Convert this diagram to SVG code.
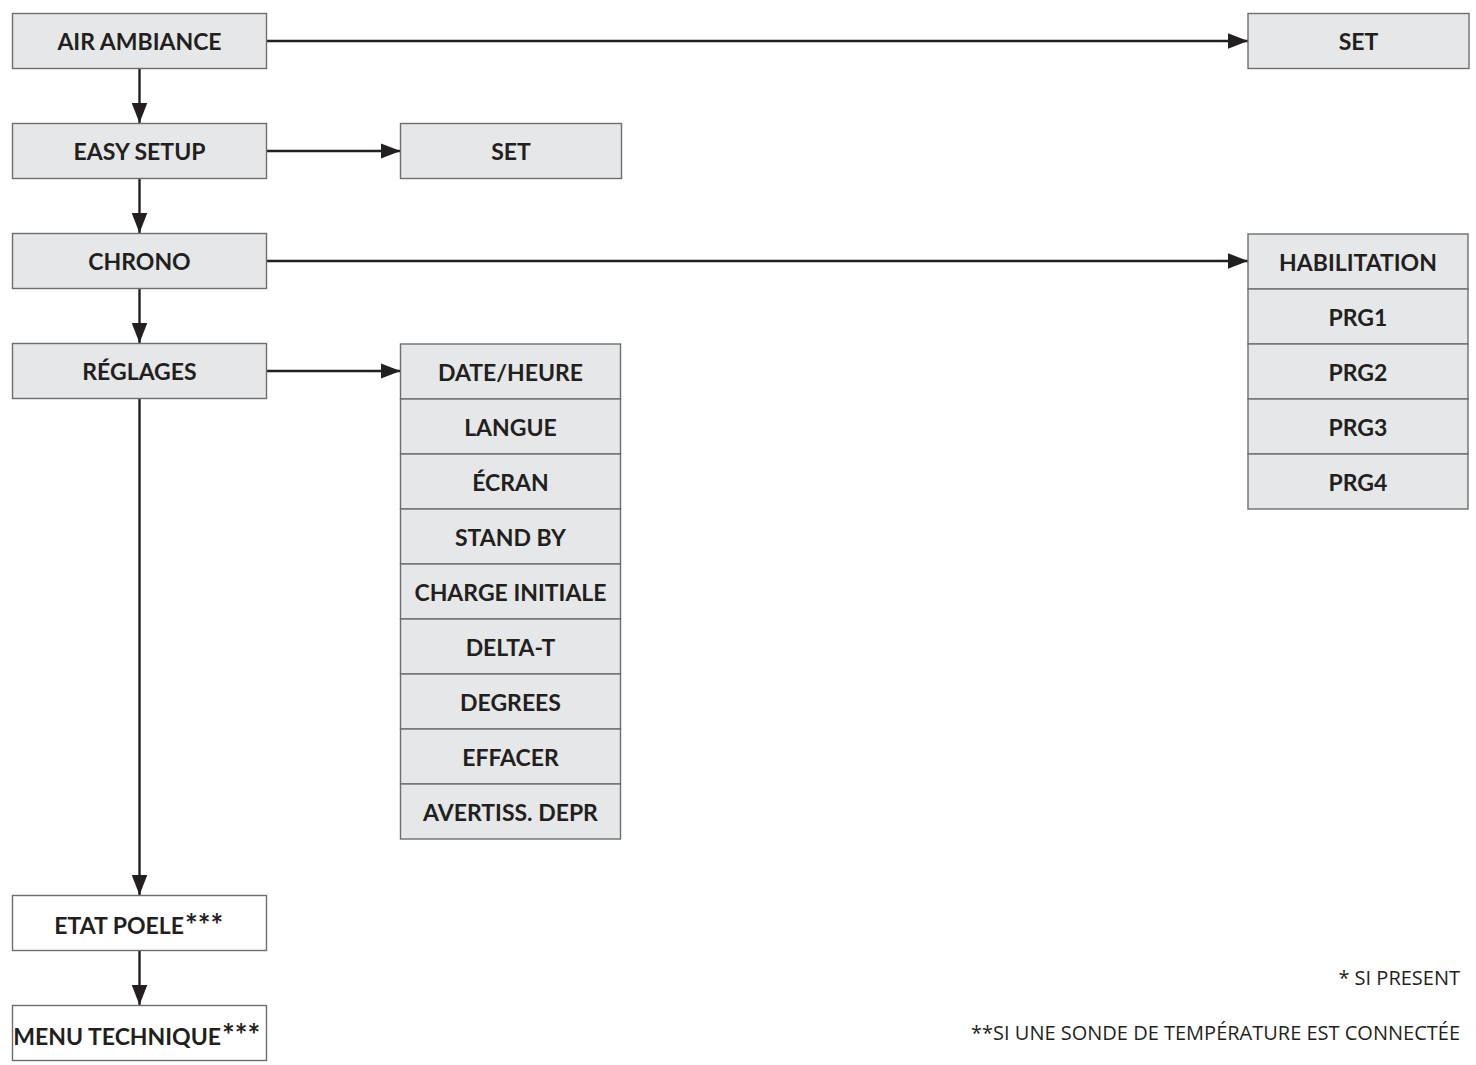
<svg xmlns="http://www.w3.org/2000/svg" width="1476" height="1065" viewBox="0 0 1476 1065">
<style>
.box{fill:#e6e7e8;stroke:#6d6e71;stroke-width:1.4}
.wbox{fill:#ffffff;stroke:#6d6e71;stroke-width:1.4}
.lbl{font-family:Lato,"Open Sans",sans-serif;font-weight:700;font-size:23px;fill:#231f20;text-anchor:middle}
.sup{font-family:Lato,"Open Sans",sans-serif;font-weight:700;font-size:30px;fill:#231f20}
.note{font-family:"Open Sans","Noto Sans",sans-serif;font-size:20px;fill:#231f20;text-anchor:end}
.con{stroke:#231f20;stroke-width:2.4;fill:none}
</style>
<defs>
<marker id="ah" markerUnits="userSpaceOnUse" markerWidth="20" markerHeight="16" refX="18" refY="7" orient="auto" viewBox="0 0 18 14">
<path d="M0,0 L18,7 L0,14 Z" fill="#231f20"/>
</marker>
</defs>
<rect width="1476" height="1065" fill="#ffffff"/>
<g id="connectors">
<line class="con" x1="267" y1="41" x2="1248" y2="41" marker-end="url(#ah)"/>
<line class="con" x1="267" y1="151" x2="400.5" y2="151" marker-end="url(#ah)"/>
<line class="con" x1="267" y1="261" x2="1248" y2="261" marker-end="url(#ah)"/>
<line class="con" x1="267" y1="371" x2="400.5" y2="371" marker-end="url(#ah)"/>
<line class="con" x1="139.5" y1="68" x2="139.5" y2="123" marker-end="url(#ah)"/>
<line class="con" x1="139.5" y1="178" x2="139.5" y2="233" marker-end="url(#ah)"/>
<line class="con" x1="139.5" y1="288" x2="139.5" y2="343" marker-end="url(#ah)"/>
<line class="con" x1="139.5" y1="398" x2="139.5" y2="895" marker-end="url(#ah)"/>
<line class="con" x1="139.5" y1="950" x2="139.5" y2="1005" marker-end="url(#ah)"/>
</g>
<g id="air-ambiance"><rect class="box" x="12.5" y="13.5" width="254" height="55"/><text class="lbl" x="139.5" y="50">AIR AMBIANCE</text></g>
<g id="set-1"><rect class="box" x="1248" y="13.5" width="221" height="55"/><text class="lbl" x="1358.5" y="50">SET</text></g>
<g id="easy-setup"><rect class="box" x="12.5" y="123.5" width="254" height="55"/><text class="lbl" x="139.5" y="160">EASY SETUP</text></g>
<g id="set-2"><rect class="box" x="400.5" y="123.5" width="221" height="55"/><text class="lbl" x="511" y="160">SET</text></g>
<g id="chrono"><rect class="box" x="12.5" y="233.5" width="254" height="55"/><text class="lbl" x="139.5" y="270">CHRONO</text></g>
<g id="reglages"><rect class="box" x="12.5" y="343.5" width="254" height="55"/><text class="lbl" x="139.5" y="380">RÉGLAGES</text></g>
<g id="etat-poele"><rect class="wbox" x="12.5" y="895.5" width="254" height="55"/><text class="lbl" style="text-anchor:end" x="184" y="934">ETAT POELE</text><text class="sup" x="185" y="936">***</text></g>
<g id="menu-technique"><rect class="wbox" x="12.5" y="1005.5" width="254" height="55"/><text class="lbl" style="text-anchor:end" x="221" y="1045">MENU TECHNIQUE</text><text class="sup" x="222" y="1046">***</text></g>
<g id="settings-list">
<rect class="box" x="400.5" y="344" width="220" height="55"/><text class="lbl" x="510.5" y="381">DATE/HEURE</text>
<rect class="box" x="400.5" y="399" width="220" height="55"/><text class="lbl" x="510.5" y="436">LANGUE</text>
<rect class="box" x="400.5" y="454" width="220" height="55"/><text class="lbl" x="510.5" y="491">ÉCRAN</text>
<rect class="box" x="400.5" y="509" width="220" height="55"/><text class="lbl" x="510.5" y="546">STAND BY</text>
<rect class="box" x="400.5" y="564" width="220" height="55"/><text class="lbl" x="510.5" y="601">CHARGE INITIALE</text>
<rect class="box" x="400.5" y="619" width="220" height="55"/><text class="lbl" x="510.5" y="656">DELTA-T</text>
<rect class="box" x="400.5" y="674" width="220" height="55"/><text class="lbl" x="510.5" y="711">DEGREES</text>
<rect class="box" x="400.5" y="729" width="220" height="55"/><text class="lbl" x="510.5" y="766">EFFACER</text>
<rect class="box" x="400.5" y="784" width="220" height="55"/><text class="lbl" x="510.5" y="821">AVERTISS. DEPR</text>
</g>
<g id="chrono-list">
<rect class="box" x="1248" y="234" width="220" height="55"/><text class="lbl" x="1358" y="271">HABILITATION</text>
<rect class="box" x="1248" y="289" width="220" height="55"/><text class="lbl" x="1358" y="326">PRG1</text>
<rect class="box" x="1248" y="344" width="220" height="55"/><text class="lbl" x="1358" y="381">PRG2</text>
<rect class="box" x="1248" y="399" width="220" height="55"/><text class="lbl" x="1358" y="436">PRG3</text>
<rect class="box" x="1248" y="454" width="220" height="55"/><text class="lbl" x="1358" y="491">PRG4</text>
</g>
<g id="notes">
<text class="note" x="1460" y="985">* SI PRESENT</text>
<text class="note" x="1460" y="1040">**SI UNE SONDE DE TEMPÉRATURE EST CONNECTÉE</text>
</g>
</svg>
